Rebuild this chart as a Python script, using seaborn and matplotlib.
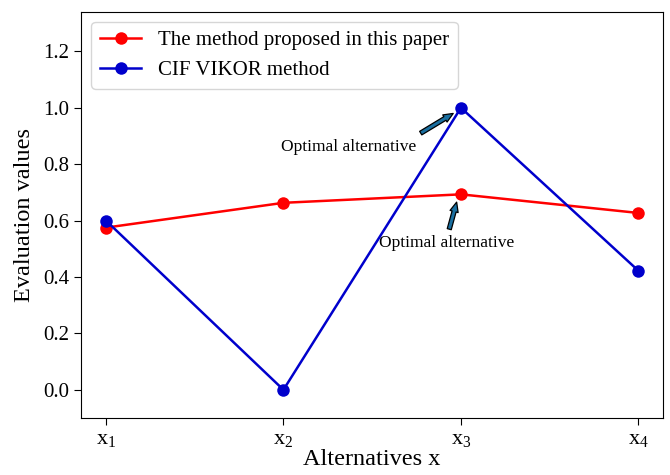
import matplotlib
matplotlib.use("Agg")
import matplotlib.pyplot as plt
import seaborn as sns
import pandas as pd

alternatives = ["x$_1$", "x$_2$", "x$_3$", "x$_4$"]
proposed = [0.575, 0.663, 0.693, 0.627]
cif_vikor = [0.600, 0.000, 1.000, 0.422]
series_names = ["The method proposed in this paper", "CIF VIKOR method"]

plt.rcParams['font.family'] = ['Liberation Serif', 'DejaVu Serif']
plt.rcParams['mathtext.fontset'] = 'custom'
plt.rcParams['mathtext.rm'] = 'Liberation Serif'
plt.rcParams['mathtext.it'] = 'Liberation Serif'

df = pd.DataFrame({
    "pos": list(range(4)) * 2,
    "value": proposed + cif_vikor,
    "series": [series_names[0]] * 4 + [series_names[1]] * 4,
})

fig = plt.figure(figsize=(6.7, 4.75), dpi=100)
ax = fig.add_axes([0.121, 0.12, 0.869, 0.855])
sns.lineplot(data=df, x="pos", y="value", hue="series",
             palette={series_names[0]: "#ff0000", series_names[1]: "#0000cc"},
             marker="o", markersize=9, markeredgewidth=0, linewidth=1.8, ax=ax)

ax.set_xticks(range(4))
ax.set_xticklabels(alternatives, fontsize=16)
ax.set_yticks([0.0, 0.2, 0.4, 0.6, 0.8, 1.0, 1.2])
ax.set_yticklabels(["0.0", "0.2", "0.4", "0.6", "0.8", "1.0", "1.2"], fontsize=15)
ax.set_xlim(-0.14, 3.14)
ax.set_ylim(-0.1, 1.34)
ax.set_xlabel("Alternatives x", fontsize=17.5, labelpad=0)
ax.set_ylabel("Evaluation values", fontsize=17.5, labelpad=6)
ax.tick_params(direction="out", length=5)

leg = ax.legend(loc="upper left", fontsize=15, frameon=True, handlelength=2.0,
                borderaxespad=0.5)
leg.get_frame().set_edgecolor("#cccccc")

arrow_kw = dict(arrowstyle="simple,head_length=0.7,head_width=0.6,tail_width=0.3",
                facecolor="#1a6fa0", edgecolor="black", linewidth=0.9)
ax.annotate("", xy=(1.97, 0.985), xytext=(1.76, 0.905), arrowprops=arrow_kw)
ax.text(1.37, 0.862, "Optimal alternative", ha="center", va="center", fontsize=12.5)
ax.annotate("", xy=(1.98, 0.675), xytext=(1.93, 0.56), arrowprops=arrow_kw)
ax.text(1.92, 0.52, "Optimal alternative", ha="center", va="center", fontsize=12.5)

fig.savefig("out.png", dpi=100)
